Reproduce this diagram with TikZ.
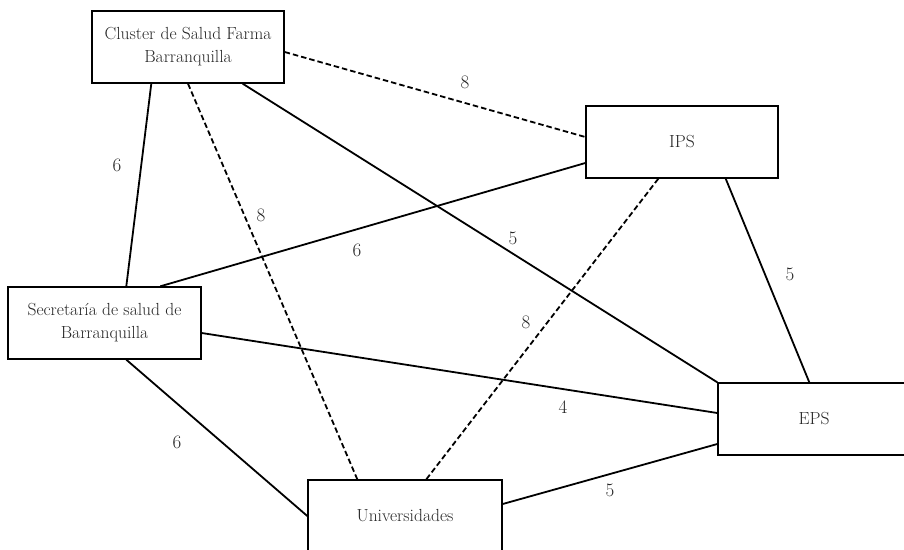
\documentclass[tikz,border=0pt]{standalone}
\usetikzlibrary{calc}
\begin{document}
\begin{tikzpicture}[x=1pt,y=-1pt,
  box/.style={draw,line width=1.4pt,rectangle,minimum width=192pt,minimum height=72pt,
    align=center,inner sep=0pt,text=black!85,font=\fontsize{17.5}{23}\selectfont},
  link/.style={line width=1.8pt},
  dlink/.style={line width=1.8pt,dash pattern=on 5.5pt off 3pt},
  wt/.style={inner sep=0pt,text=black!85,font=\fontsize{19}{21}\selectfont}]
\useasboundingbox (0,0) rectangle (904,549);
\clip (0,0) rectangle (904,549);
\node[box] (clu) at (188,47) {Cluster de Salud Farma\\Barranquilla};
\node[box] (ips) at (682,142) {IPS};
\node[box,minimum width=193pt] (sec) at (104.5,323) {Secretaría de salud de\\Barranquilla};
\node[box] (eps) at (814,419) {EPS};
\node[box,minimum width=194pt] (uni) at (405,516) {Universidades};
% connectors
\draw[link] ([xshift=60pt]clu.south west) -- ([xshift=119pt]sec.north west);
\draw[dlink] (clu.south) -- ([xshift=50pt]uni.north west);
\draw[link] ([xshift=-42pt]clu.south east) -- (eps.north west);
\draw[dlink] ([yshift=-5pt]clu.east) -- ([yshift=5pt]ips.west);
\draw[link] ([yshift=-21pt]ips.west) -- ([xshift=153pt]sec.north west);
\draw[link] ([xshift=-53pt]ips.south east) -- ([xshift=92pt]eps.north west);
\draw[dlink] ([xshift=73pt]ips.south west) -- ([xshift=119pt]uni.north west);
\draw[link] ([yshift=-10pt]sec.east) -- ([yshift=6pt]eps.west);
\draw[link] ([xshift=119pt]sec.south west) -- (uni.west);
\draw[link] ([yshift=12pt]uni.east) -- ([yshift=-25pt]eps.west);
% weights
\node[wt] (w1) at (117,165) {6};
\node[wt] (w2) at (261,215) {8};
\node[wt] (w3) at (513,238) {5};
\node[wt] (w4) at (465,82) {8};
\node[wt] (w5) at (357,250) {6};
\node[wt] (w6) at (790,274) {5};
\node[wt] (w7) at (526,322) {8};
\node[wt] (w8) at (563,407) {4};
\node[wt] (w9) at (177,442) {6};
\node[wt] (w10) at (610,490) {5};
\end{tikzpicture}
\end{document}
